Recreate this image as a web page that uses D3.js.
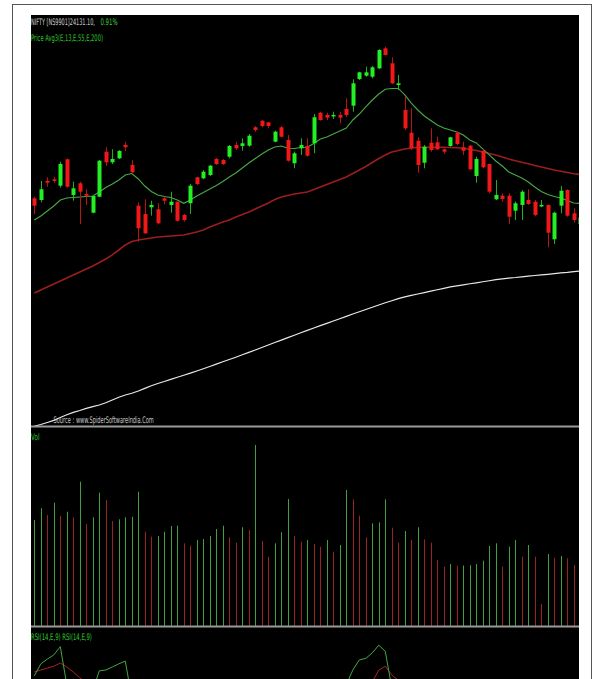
<!DOCTYPE html>
<html>
<head>
<meta charset="utf-8">
<script src="https://cdn.jsdelivr.net/npm/d3@7"></script>
<style>
  html, body { margin: 0; padding: 0; background: #fff; }
  svg { display: block; }
</style>
</head>
<body>
<svg id="chart" width="596" height="679"></svg>
<script>
// NIFTY daily candles (index 0 = leftmost bar)
let opens  = [24371,24350,24588,24609,24529,24859,24413,24559,24425,24191,24391,24954,24821,24871,25038,24788,24279,24175,24259,24234,24371,24288,24329,24163,24309,24634,24621,24663,24863,24850,24891,25038,25025,25029,25259,25341,25321,25079,25259,25100,24809,24996,25025,25059,25441,25413,25400,25413,25488,25529,25863,25904,25891,25996,26246,26059,25788,25475,25191,25091,24816,25066,25071,24984,25025,25191,25009,25029,24650,24966,24800,24359,24404,24404,24216,24288,24350,24329,24275,24288,23859,24279,24475,24184,24050];
let highs  = [24391,24588,24634,24641,24829,24871,24579,24579,24484,24413,24850,25009,24984,24975,25079,24850,24321,24359,24341,24309,24391,24454,24331,24175,24550,24641,24725,24788,24875,24863,25038,25079,25121,25175,25275,25350,25329,25216,25275,25163,24954,25121,25121,25425,25454,25441,25454,25454,25621,25859,25954,26016,26025,26234,26266,26134,25913,25641,25496,25134,25038,25246,25141,24996,25141,25204,25079,25038,24891,24984,24806,24600,24434,24434,24329,24475,24484,24350,24350,24294,24204,24525,24484,24246,24150];
let lows   = [24175,24321,24516,24566,24504,24504,24341,24050,24288,24184,24388,24775,24800,24863,24963,24691,23829,23925,24154,24046,24296,24191,24079,24079,24175,24538,24609,24650,24788,24788,24871,24975,24966,25016,25204,25259,25246,25071,25134,24829,24746,24913,24891,24934,25341,25350,25363,25309,25384,25454,25850,25891,25871,25988,26156,25800,25725,25225,24975,24691,24746,24954,24975,24925,25016,25038,24913,24725,24566,24746,24434,24350,24329,24050,24100,24100,24288,24150,24259,23759,23800,24184,24141,24066,24020];
let closes = [24279,24484,24566,24588,24800,24516,24496,24454,24404,24400,24841,24821,24863,24963,25009,24696,23996,23934,24288,24059,24341,24329,24091,24100,24529,24550,24704,24779,24800,24800,25025,24996,25059,25154,25225,25275,25275,25204,25141,24841,24934,25038,24904,25384,25350,25379,25413,25379,25413,25809,25946,25946,26009,26225,26163,25809,25809,25246,24996,24788,25016,24975,24984,24954,25134,25050,24966,24734,24863,24759,24454,24413,24363,24141,24309,24454,24300,24163,24288,23941,24191,24466,24154,24100,24131.1];

// exponential averages as drawn (13, 55, 200)
let ema13  = [24100,24150,24213,24275,24350,24375,24381,24388,24394,24400,24450,24506,24550,24600,24663,24681,24613,24525,24456,24413,24394,24381,24350,24309,24350,24400,24444,24488,24531,24581,24638,24688,24750,24813,24869,24925,24975,25013,25025,24996,24994,25006,25009,25056,25113,25138,25175,25213,25250,25350,25425,25513,25600,25675,25734,25744,25744,25663,25560,25475,25400,25344,25288,25250,25225,25200,25163,25100,25063,24988,24913,24838,24775,24700,24663,24625,24575,24513,24456,24419,24394,24375,24344,24313,24306];
let ema55  = [23188,23225,23263,23300,23338,23375,23413,23450,23488,23525,23569,23613,23663,23725,23788,23831,23850,23863,23875,23888,23894,23900,23906,23913,23931,23950,23975,24013,24044,24075,24100,24138,24169,24200,24238,24275,24313,24356,24388,24406,24425,24438,24450,24481,24513,24544,24575,24606,24638,24681,24725,24769,24819,24869,24913,24950,24969,24988,25000,25006,25009,25009,25009,25009,25006,25003,24996,24984,24969,24950,24931,24913,24888,24863,24841,24821,24803,24781,24763,24744,24725,24709,24694,24678,24669];
let ema200 = [21521,21544,21569,21595,21631,21666,21696,21719,21745,21768,21788,21815,21850,21885,21913,21934,21963,21996,22028,22056,22081,22108,22134,22160,22186,22213,22240,22269,22299,22328,22356,22385,22415,22445,22475,22506,22538,22568,22599,22630,22660,22691,22720,22750,22779,22808,22838,22866,22896,22925,22953,22981,23009,23038,23065,23091,23118,23139,23158,23175,23193,23210,23228,23245,23263,23276,23289,23303,23315,23328,23341,23354,23365,23374,23381,23390,23398,23406,23414,23421,23429,23438,23445,23454,23463];

// volume (lakh shares)
let volumes = [214,237.4,224,248.6,222,230.6,219.4,290.6,206,219.4,268.6,254,212,215.4,219.4,220.4,270.6,190.6,180.6,182,190.6,202,202.6,167.4,162.6,174,176,182,196,202.6,179.4,168.6,199.4,194,364,172,140.6,167.4,189.4,256,182,170.6,174,166,160.6,174,150.6,164,274,255.4,222.6,179.4,207.4,209.4,255.4,198.6,168.6,192,174,199.4,175.4,168.6,134,120.6,126,122.6,123,123.6,126,132.6,162,167.4,120.6,160.6,174,140.6,164,140.6,46,146,138.6,142,137.4,124,150];

// RSI(14) and its 9 EMA signal
let rsi    = [63.7,66.8,68.0,69.1,71.2,61.4,58,55,52,60,65.0,65.2,66.0,66.8,67.5,58,45,40,42,38,42,43,38,37,48,47,50,53,52,52,56,55,56,59,60,60.5,60,55,55,48,51,54,51,60,60,59.5,60,59.5,61.4,65.2,67.8,68.2,69.6,71.6,70.0,60.6,57,50,45,41,46,45,45,44,47,46,44,38,43,40,34,36,35,31,33,38,37,34,35,29,35,41,36,35,38];
let rsiSig = [64.7,65.2,65.7,66.2,67.0,66.0,64.7,63.2,61.9,61,61.5,62,62.4,62.6,62.5,61.5,58,55,53,50,48.5,47.5,46,44.5,45,45.5,46.5,48,49,49.5,51,52,53,54,55.5,56.5,57,56.5,56,54.5,54,54,53.5,55,56,57,57.5,58,59,60.5,61.5,62,62.1,65.2,66.2,63.9,62.6,60,57,54,52.5,51,50,49,48.5,48,47,45,44.5,43.5,41.5,40,39,37.5,36.5,36.8,36.8,36,35.8,34.5,34.6,36,36,35.8,36.2];

let symbolText = "NIFTY [NS9901]24131.10,";
let changeText = "0.91%";
let avgText = "Price Avg3(E,13,E,55,E,200)";
let sourceText = "Source : www.SpiderSoftwareIndia.Com";
let volText = "Vol";
let rsiText = "RSI(14,E,9) RSI(14,E,9)";

let bars = d3.range(opens.length).map(i => ({
  i: i, o: opens[i], h: highs[i], l: lows[i], c: closes[i], v: volumes[i],
  up: closes[i] >= opens[i],
  vup: i === 0 ? true : volumes[i] >= volumes[i - 1]
}));

let svg = d3.select('#chart');
let paneLeft = 31, paneRight = 579, paneTop = 15, paneBottom = 679;

// outer frame
svg.append('line').attr('x1', 12.5).attr('x2', 12.5).attr('y1', 4.5).attr('y2', 679).attr('stroke', '#555').attr('stroke-width', 1);
svg.append('line').attr('x1', 591.5).attr('x2', 591.5).attr('y1', 4.5).attr('y2', 679).attr('stroke', '#555').attr('stroke-width', 1);
svg.append('line').attr('x1', 12).attr('x2', 592).attr('y1', 4.5).attr('y2', 4.5).attr('stroke', '#555').attr('stroke-width', 1);

svg.append('rect').attr('x', paneLeft).attr('y', paneTop).attr('width', paneRight - paneLeft).attr('height', paneBottom - paneTop).attr('fill', '#000');

let x = d3.scaleLinear().domain([0, 84]).range([34.3, 580.3]);
let yPrice = d3.scaleLinear().domain([21525, 26662.5]).range([426, 15]);
let yVol = d3.scaleLinear().domain([0, 398]).range([627, 428]);
let yRsi = d3.scaleLinear().domain([20, 76]).range([846, 628]);

let defs = svg.append('defs');
function clip(id, y0, y1){
  defs.append('clipPath').attr('id', id).append('rect')
    .attr('x', paneLeft).attr('y', y0).attr('width', paneRight - paneLeft).attr('height', y1 - y0);
  return svg.append('g').attr('clip-path', 'url(#' + id + ')');
}

let pricePane = clip('clipPrice', paneTop, 426);
let volPane = clip('clipVol', 428, 626);
let rsiPane = clip('clipRsi', 628, paneBottom);

// moving averages
let line = d3.line().x((d, i) => x(i)).y(d => yPrice(d));
pricePane.append('path').attr('d', line(ema200)).attr('fill', 'none').attr('stroke', '#e8e8e8').attr('stroke-width', 1.2);
pricePane.append('path').attr('d', line(ema55)).attr('fill', 'none').attr('stroke', '#9a1e1e').attr('stroke-width', 1.6);
pricePane.append('path').attr('d', line(ema13)).attr('fill', 'none').attr('stroke', '#48a848').attr('stroke-width', 1.1);

// candles
let candle = pricePane.selectAll('.candle').data(bars).enter().append('g').attr('class', 'candle');
candle.append('line')
  .attr('x1', d => Math.round(x(d.i)) + 0.5).attr('x2', d => Math.round(x(d.i)) + 0.5)
  .attr('y1', d => yPrice(d.h)).attr('y2', d => yPrice(d.l))
  .attr('stroke', d => d.up ? '#1fae1f' : '#b81414').attr('stroke-width', 1);
candle.append('rect')
  .attr('x', d => Math.round(x(d.i)) - 1.5).attr('width', 4)
  .attr('y', d => yPrice(Math.max(d.o, d.c)))
  .attr('height', d => Math.max(1.5, Math.abs(yPrice(d.o) - yPrice(d.c))))
  .attr('fill', d => d.up ? '#22f022' : '#f01818');

// volume
volPane.selectAll('.vol').data(bars).enter().append('line').attr('class', 'vol')
  .attr('x1', d => Math.round(x(d.i)) + 0.5).attr('x2', d => Math.round(x(d.i)) + 0.5)
  .attr('y1', d => yVol(d.v)).attr('y2', yVol(0))
  .attr('stroke', d => d.vup ? '#3fa03f' : '#9a2222').attr('stroke-width', 1);

// rsi
let rline = d3.line().x((d, i) => x(i)).y(d => yRsi(d));
rsiPane.append('path').attr('d', rline(rsiSig)).attr('fill', 'none').attr('stroke', '#a82424').attr('stroke-width', 1);
rsiPane.append('path').attr('d', rline(rsi)).attr('fill', 'none').attr('stroke', '#3faa3f').attr('stroke-width', 1);

// pane separators
[426.5, 626.5].forEach(y => {
  svg.append('line').attr('x1', paneLeft).attr('x2', paneRight).attr('y1', y).attr('y2', y)
    .attr('stroke', '#9a9a9a').attr('stroke-width', 2);
});

// labels: the terminal font is very narrow, so squeeze the text horizontally
function label(t, x0, y0, w, color){
  let g = svg.append('g');
  let txt = g.append('text').attr('x', 0).attr('y', 0).text(t)
    .attr('font-family', 'DejaVu Sans, sans-serif').attr('font-size', 9)
    .attr('fill', color);
  let natural = txt.node().getComputedTextLength();
  g.attr('transform', 'translate(' + x0 + ',' + y0 + ') scale(' + (w / natural) + ',1)');
}
label(symbolText, 31, 25, 64, '#d0d0d0');
label(changeText, 100.5, 25, 17, '#3fd23f');
label(avgText, 31, 41, 72, '#2ec82e');
label(sourceText, 53.5, 423, 100.5, '#c8c8c8');
label(volText, 31, 440, 8.5, '#2ec82e');
label(rsiText, 31, 640, 61, '#2ec82e');
</script>
</body>
</html>
